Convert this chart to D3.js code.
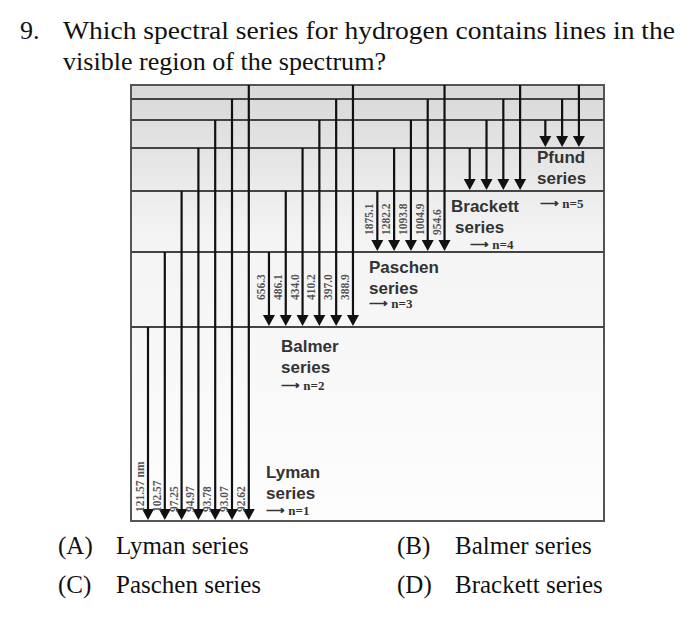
<!DOCTYPE html>
<html><head><meta charset="utf-8">
<script src="https://cdn.jsdelivr.net/npm/d3@7"></script>
<style>body{margin:0;background:#fff}</style>
</head><body>
<script>
// data
var levels = [1, 2, 3, 4, 5, 6, 7, 8];
var seriesNames = ['Lyman', 'Balmer', 'Paschen', 'Brackett', 'Pfund'];
var lowerLevel = [1, 2, 3, 4, 5];
var wavelengths = [
	['121.57 nm', '102.57', '97.25', '94.97', '93.78', '93.07', '92.62'],
	['656.3', '486.1', '434.0', '410.2', '397.0', '388.9'],
	['1875.1', '1282.2', '1093.8', '1004.9', '954.6'],
	[null, null, null, null],
	[null, null, null]
];
var options = [['(A)', 'Lyman series'], ['(B)', 'Balmer series'], ['(C)', 'Paschen series'], ['(D)', 'Brackett series']];

var W = 693, H = 619;
var svg = d3.select("body").append("svg").attr("width", W).attr("height", H);

var y = d3.scaleOrdinal().domain(levels).range([521, 327, 252, 191, 148, 120, 99, 85]);
var gaps = [0, 0.2, 0.45, 0.5, 0.5];
var x = d3.scaleLinear().domain([0, 1]).range([148, 164.8]);

var defs = svg.append("defs");
var grad = defs.append("linearGradient").attr("id", "bg").attr("x1", 0).attr("y1", 0).attr("x2", 0).attr("y2", 1);
grad.append("stop").attr("offset", "0").attr("stop-color", "#d8d8d8");
grad.append("stop").attr("offset", "0.35").attr("stop-color", "#f4f4f4");
grad.append("stop").attr("offset", "1").attr("stop-color", "#fdfdfd");

var left = 131, right = 604;
svg.append("rect").attr("x", left).attr("y", y(8)).attr("width", right - left)
	.attr("height", y(1) - y(8)).attr("fill", "url(#bg)").attr("stroke", "#555").attr("stroke-width", 2);

svg.selectAll("line.lev").data(levels.slice(1, 7)).enter().append("line")
	.attr("x1", left).attr("x2", right).attr("y1", function(d){return y(d);}).attr("y2", function(d){return y(d);})
	.attr("stroke", "#444").attr("stroke-width", 2);

// title
var serif = "Liberation Serif, Times New Roman, serif";
svg.append("text").attr("x", 20).attr("y", 39).attr("font-family", serif).attr("font-size", 26).attr("fill", "#111").text("9.");
svg.append("text").attr("x", 63).attr("y", 39).attr("font-family", serif).attr("font-size", 26).attr("fill", "#111")
	.attr("textLength", 612).attr("lengthAdjust", "spacingAndGlyphs").text("Which spectral series for hydrogen contains lines in the");
svg.append("text").attr("x", 63).attr("y", 70).attr("font-family", serif).attr("font-size", 26).attr("fill", "#111")
	.attr("textLength", 323).attr("lengthAdjust", "spacingAndGlyphs").text("visible region of the spectrum?");

// arrows
var slot = 0;
seriesNames.forEach(function(name, s) {
	slot += gaps[s];
	var lo = lowerLevel[s];
	var n = wavelengths[s].length;
	for (var k = 0; k < n; k++) {
		var cx = x(slot + k);
		var top = k === n - 1 ? y(8) : y(lo + k + 1);
		var bot = y(lo);
		svg.append("line").attr("x1", cx).attr("x2", cx).attr("y1", top).attr("y2", bot - 10)
			.attr("stroke", "#111").attr("stroke-width", 2.2);
		svg.append("path").attr("d", "M" + (cx - 6) + "," + (bot - 12) + "L" + (cx + 6) + "," + (bot - 12) + "L" + cx + "," + (bot - 1) + "Z")
			.attr("fill", "#111");
		var lbl = wavelengths[s][k];
		if (lbl) {
			var ly = s === 0 ? 512 : (s === 1 ? 300 : 235);
			svg.append("text").attr("transform", "translate(" + (cx - 4) + "," + ly + ") rotate(-90)")
				.attr("font-family", "Liberation Serif, serif").attr("font-weight", "bold")
				.attr("font-size", 11.5).attr("fill", "#555").text(lbl);
		}
	}
	slot += n;
});

// series labels
var lab = [
	{t: ['Lyman', 'series'], x: 266, y: 478, arrow: 'n=1', ay: 515},
	{t: ['Balmer', 'series'], x: 281, y: 352, arrow: 'n=2', ay: 390},
	{t: ['Paschen', 'series'], x: 369, y: 273, arrow: 'n=3', ay: 308},
	{t: ['Brackett', 'series'], x: 451, y: 212, arrow: 'n=4', ay: 249, ax: 470},
	{t: ['Pfund', 'series'], x: 537, y: 163, arrow: 'n=5', ay: 208, ax: 540}
];
lab.forEach(function(d, i) {
	svg.append("text").attr("x", d.x).attr("y", d.y).attr("font-family", "Liberation Sans, Arial, sans-serif")
		.attr("font-weight", "bold").attr("font-size", 17).attr("fill", "#333").text(d.t[0]);
	svg.append("text").attr("x", d.x + (i === 3 ? 4 : 0)).attr("y", d.y + 21).attr("font-family", "Liberation Sans, Arial, sans-serif")
		.attr("font-weight", "bold").attr("font-size", 17).attr("fill", "#333").text(d.t[1]);
	svg.append("text").attr("x", d.ax || d.x).attr("y", d.ay).attr("font-family", "Liberation Serif, serif")
		.attr("font-weight", "bold").attr("font-size", 13).attr("fill", "#333").text("\u27F6 " + d.arrow);
});

// answer options
options.forEach(function(o, i) {
	var ox = i % 2 === 0 ? 58 : 397, oy = i < 2 ? 554 : 593;
	var t = svg.append("text").attr("y", oy).attr("font-family", serif).attr("font-size", 25).attr("fill", "#111");
	t.append("tspan").attr("x", ox).text(o[0]);
	t.append("tspan").attr("x", ox + 58).text(o[1]);
});
</script>
</body></html>
